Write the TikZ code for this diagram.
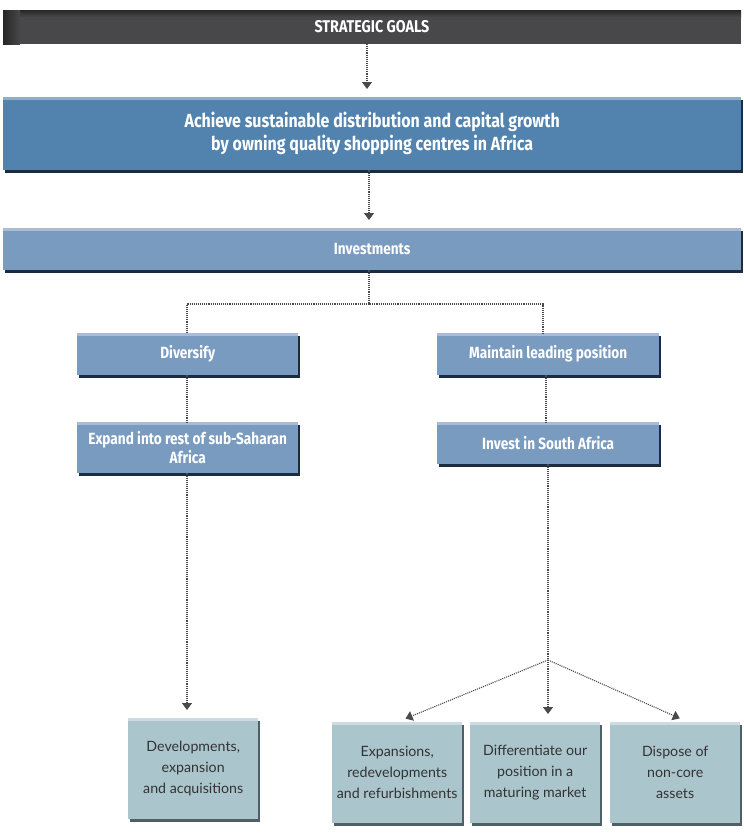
\documentclass[tikz,border=0pt]{standalone}
\usepackage{fontspec}
\setmainfont{Lato}
\newfontfamily\condfont[FakeStretch=0.84]{Fira Sans}
\usetikzlibrary{arrows.meta,shadows}

\definecolor{headgray}{HTML}{48484B}
\definecolor{goalblue}{HTML}{5283AE}
\definecolor{midblue}{HTML}{7A9BC0}
\definecolor{paleteal}{HTML}{AAC5CC}
\definecolor{edgenavy}{HTML}{1C2B40}
\definecolor{edgeteal}{HTML}{4E5F66}
\definecolor{linegray}{HTML}{4A4A4A}

\tikzset{
  % bevelled boxes: light top rim, dark edge bottom right
  rim/.style={path picture={
      \fill[white,opacity=#1] (path picture bounding box.north west)
        rectangle ([yshift=-3pt]path picture bounding box.north east);}},
  bluebox/.style={rectangle, inner sep=0pt, align=center, text=white,
    font=\condfont\bfseries\fontsize{16.2}{19}\selectfont,
    drop shadow={shadow xshift=2pt, shadow yshift=-3pt, fill=edgenavy, opacity=1},
    rim=0.35, fill=midblue, anchor=north west},
  tealbox/.style={rectangle, inner sep=0pt, align=center, fill=paleteal,
    text=black!80, font=\fontsize{14.2}{21}\selectfont,
    minimum width=130pt, minimum height=101pt, anchor=north west,
    drop shadow={shadow xshift=1.5pt, shadow yshift=-2.5pt, fill=edgeteal, opacity=1},
    rim=0.4},
  link/.style={linegray, line width=1.1pt, densely dotted},
  arrow/.style={link, -{Triangle[width=10pt,length=7pt]}, shorten >=8pt}
}

\begin{document}
\begin{tikzpicture}[x=1pt,y=-1pt]
  \useasboundingbox (0,0) rectangle (744,833);

  % top banner, darker along its top and left
  \fill[headgray] (3,10) rectangle (741,44);
  \shade[top color=black!85, bottom color=headgray] (3,10) rectangle (741,17);
  \shade[left color=black!85, right color=headgray] (3,10) rectangle (20,44);
  \node[font=\condfont\bfseries\fontsize{17}{20}\selectfont, text=white]
    (head) at (372,27) {STRATEGIC GOALS};
  \coordinate (headbot) at (367,44);

  % goal and investments
  \node[bluebox, fill=goalblue, minimum width=738pt, minimum height=73pt,
        font=\condfont\bfseries\fontsize{19}{23}\selectfont]
    (goal) at (3,97) {Achieve sustainable distribution and capital growth\\by owning quality shopping centres in Africa};
  \node[bluebox, minimum width=738pt, minimum height=42pt] (inv) at (3,228) {Investments};

  % the two branches
  \node[bluebox, minimum width=221pt, minimum height=42pt] (div) at (77,333) {Diversify};
  \node[bluebox, minimum width=221pt, minimum height=51pt] (exp) at (77,422) {Expand into rest of sub-Saharan\\Africa};
  \node[bluebox, minimum width=222pt, minimum height=42pt] (maint) at (437,333) {Maintain leading position};
  \node[bluebox, minimum width=222pt, minimum height=42pt] (invsa) at (437,422) {Invest in South Africa};

  % actions
  \node[tealbox] (dev) at (128,718) {Developments,\\expansion\\and acquisitions};
  \node[tealbox] (refurb) at (332,722) {Expansions,\\redevelopments\\and refurbishments};
  \node[tealbox] (diff) at (470,722) {Differentiate our\\position in a\\maturing market};
  \node[tealbox] (dispose) at (610,722) {Dispose of\\non-core\\assets};

  % connectors
  \coordinate (fork) at (369,304);
  \coordinate (split) at (548,660);
  \draw[arrow] (headbot) -- (goal.north -| headbot);
  \draw[arrow] (goal.south -| fork) -- (inv.north -| fork);
  \draw[link] (inv.south -| fork) -- (fork);
  \draw[link] (div.north -| 187,0) |- (fork) -| (maint.north -| 543,0);
  \draw[link] (div.south -| 187,0) -- (exp.north -| 187,0);
  \draw[link] (maint.south -| 546,0) -- (invsa.north -| 546,0);
  \draw[arrow] (exp.south -| 187,0) -- (dev.north -| 187,0);
  \draw[link] (invsa.south -| split) -- (split);
  \draw[arrow, shorten >=9pt] (split) -- (refurb.north);
  \draw[arrow] (split) -- (diff.north -| split);
  \draw[arrow, shorten >=9pt] (split) -- (dispose.north -| 688,0);
\end{tikzpicture}
\end{document}
